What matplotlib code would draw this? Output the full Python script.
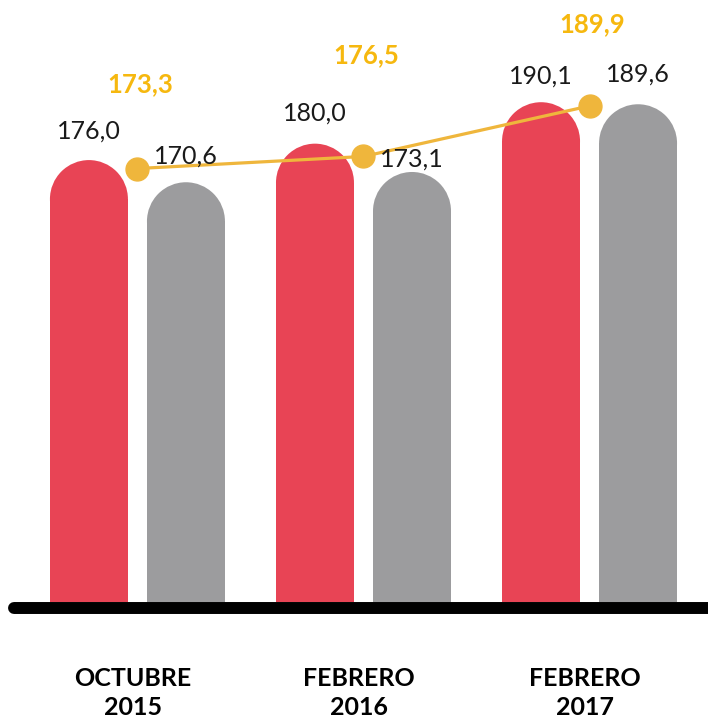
import matplotlib
matplotlib.use("Agg")
import matplotlib.pyplot as plt
from matplotlib.patches import Ellipse
from matplotlib.lines import Line2D
import numpy as np

categories = ["OCTUBRE\n2015", "FEBRERO\n2016", "FEBRERO\n2017"]
red_vals = [176.0, 180.0, 190.1]
gray_vals = [170.6, 173.1, 189.6]
line_vals = [173.3, 176.5, 189.9]

# label offsets above the marks, in pixels
red_lab_off = [22, 23, 19]
gray_lab_off = [19, 5, 23]
line_lab_off = [76, 93, 74]

RED = "#E84455"
GRAY = "#9C9C9E"
YELLOW = "#EFB63C"
YELLOW_TXT = "#F6B80F"

plt.rcParams["font.family"] = ["Lato", "DejaVu Sans"]

fig = plt.figure(figsize=(7.08, 7.22), dpi=100)
ax = fig.add_axes([0, 0, 1, 1])

# pixel mapping taken from the reference layout
ax.set_xlim(-0.608, 2.524)
ax.set_ylim(39.1, 215.0)
ax.axis("off")

# the line series sits on its own scale
ax2 = ax.twinx()
ax2.set_ylim(26.5, 218.0)
ax2.axis("off")

base = 68.4
width = 0.345
offset = 0.2146
# y radius of the rounded top, in data units (39 px / 4.105 px per unit)
ry = 39 / 4.105

x = np.arange(len(categories))


def rounded_bars(xs, vals, color, offs):
    ax.bar(xs, [v - ry - base for v in vals], width=width, bottom=base,
           color=color, zorder=1)
    for xi, v, o in zip(xs, vals, offs):
        ax.add_patch(Ellipse((xi, v - ry), width, 2 * ry, color=color,
                             lw=0, zorder=1))
        ax2.annotate(f"{v:.1f}".replace(".", ","), (xi, v),
                     xycoords=ax.transData,
                     xytext=(0, o), textcoords="offset pixels",
                     ha="center", va="baseline", fontsize=18,
                     color="#1a1a1a", zorder=6)


rounded_bars(x - offset, red_vals, RED, red_lab_off)
rounded_bars(x + offset, gray_vals, GRAY, gray_lab_off)

ax2.plot(x, line_vals, color=YELLOW, lw=2.3, marker="o", markersize=16.5,
         zorder=3)
for xi, v, o in zip(x, line_vals, line_lab_off):
    ax2.annotate(f"{v:.1f}".replace(".", ","), (xi, v),
                 xytext=(3, o), textcoords="offset pixels",
                 ha="center", va="baseline", fontsize=18.5,
                 fontweight="bold", color=YELLOW_TXT, zorder=6)

# thick base line with rounded left end
fig.add_artist(Line2D([14 / 708, 1.05], [1 - 608 / 722] * 2,
                      transform=fig.transFigure, color="black", lw=8.6,
                      solid_capstyle="round", zorder=5))

for xi, lab in zip(x, categories):
    ax.text(xi - 0.02, 1 - 693 / 722, lab, transform=ax.get_xaxis_transform(),
            ha="center", va="center", fontsize=18, fontweight="bold",
            linespacing=1.35, color="black")

fig.savefig("out.png", dpi=100)
